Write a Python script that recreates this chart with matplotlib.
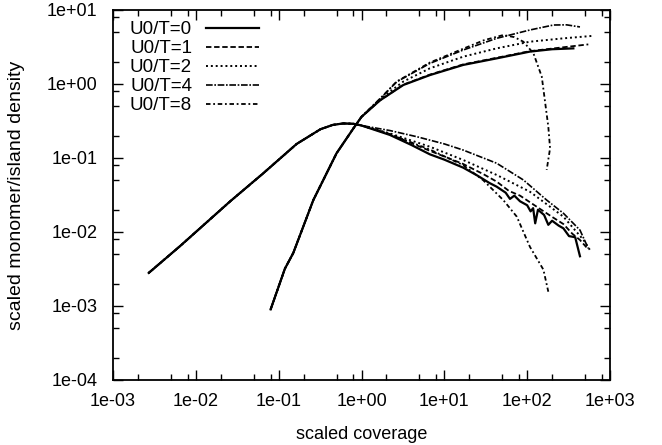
import matplotlib
matplotlib.use("Agg")
import matplotlib.pyplot as plt
from matplotlib.ticker import LogLocator, FuncFormatter, NullFormatter

plt.rcParams['font.family'] = ['Liberation Sans', 'DejaVu Sans']

labels = ["U0/T=0", "U0/T=1", "U0/T=2", "U0/T=4", "U0/T=8"]

# monomer density: common rise, then one tail per U0/T
mono_x_common = [0.0027, 0.0065, 0.026, 0.065, 0.165, 0.32, 0.45, 0.60, 0.80, 1.0]
mono_y_common = [0.0028, 0.0065, 0.026, 0.062, 0.155, 0.245, 0.28, 0.293, 0.29, 0.275]

mono_x_0 = [1.0, 2.2, 4.0, 6.7, 10, 16.9, 25, 35, 42.8, 55, 62, 70, 82, 100, 110, 118, 125, 135,
            160, 180, 200, 240, 274, 320, 380, 434]
mono_y_0 = [0.272, 0.205, 0.15, 0.112, 0.095, 0.074, 0.058, 0.046, 0.041, 0.034, 0.028, 0.031, 0.026,
            0.023, 0.019, 0.021, 0.0131, 0.020, 0.017, 0.0125, 0.0142, 0.0122, 0.0112, 0.0088, 0.0085, 0.0047]
mono_x_1 = [1.0, 2.2, 6.7, 16.9, 30, 42.8, 60, 82, 130, 200, 274, 350, 434, 520]
mono_y_1 = [0.272, 0.21, 0.125, 0.083, 0.06, 0.048, 0.036, 0.031, 0.022, 0.016, 0.0128, 0.0095, 0.0078, 0.0062]
mono_x_2 = [1.0, 2.2, 6.7, 16.9, 42.8, 108, 274, 479, 573]
mono_y_2 = [0.274, 0.215, 0.142, 0.094, 0.059, 0.035, 0.0161, 0.0078, 0.0057]
mono_x_4 = [1.0, 2.2, 4.65, 10, 16.9, 42.8, 90, 172, 274, 434, 547]
mono_y_4 = [0.279, 0.235, 0.194, 0.155, 0.128, 0.085, 0.0505, 0.027, 0.0179, 0.0106, 0.006]
mono_x_8 = [1.0, 2.2, 6.7, 16.9, 29.5, 51.5, 75, 108, 157, 180]
mono_y_8 = [0.276, 0.21, 0.13, 0.08, 0.05, 0.027, 0.0161, 0.0063, 0.0031, 0.00156]

# island density: common rise, then one tail per U0/T
isl_x_common = [0.08, 0.119, 0.15, 0.262, 0.5, 0.8, 1.0]
isl_y_common = [0.0009, 0.0032, 0.0052, 0.027, 0.116, 0.252, 0.36]

isl_x_0 = [1.0, 1.67, 3.2, 6.7, 16.9, 42.8, 108, 200, 361]
isl_y_0 = [0.36, 0.6, 0.97, 1.32, 1.81, 2.22, 2.74, 2.95, 3.03]
isl_x_1 = [1.0, 1.67, 3.2, 6.7, 16.9, 42.8, 108, 250, 547]
isl_y_1 = [0.36, 0.6, 0.98, 1.34, 1.84, 2.26, 2.78, 3.1, 3.43]
isl_x_2 = [1.0, 1.67, 3.2, 6.7, 16.9, 42.8, 108, 274, 601]
isl_y_2 = [0.36, 0.62, 1.08, 1.63, 2.34, 3.03, 3.73, 4.14, 4.46]
isl_x_4 = [1.0, 1.67, 2.66, 6.7, 16.9, 42.8, 108, 208, 300, 434]
isl_y_4 = [0.36, 0.63, 1.07, 1.9, 2.88, 4.14, 5.37, 6.27, 6.3, 5.9]
isl_x_8 = [1.0, 1.67, 2.66, 6.7, 16.9, 30, 51.5, 70, 90, 119, 150, 180, 189, 172]
isl_y_8 = [0.36, 0.63, 1.08, 1.95, 3.0, 3.9, 4.59, 4.3, 3.73, 2.6, 1.26, 0.265, 0.135, 0.069]

mono_tails = [(mono_x_0, mono_y_0), (mono_x_1, mono_y_1), (mono_x_2, mono_y_2),
              (mono_x_4, mono_y_4), (mono_x_8, mono_y_8)]
isl_tails = [(isl_x_0, isl_y_0), (isl_x_1, isl_y_1), (isl_x_2, isl_y_2),
             (isl_x_4, isl_y_4), (isl_x_8, isl_y_8)]

styles = [dict(ls='-', lw=1.6),
          dict(ls=(0, (3, 1.5)), lw=1.3),
          dict(ls=(0, (1, 1.5)), lw=1.4),
          dict(ls=(0, (4, 1, 1, 1)), lw=1.2),
          dict(ls=(0, (2.5, 1.5, 1, 1.5)), lw=1.3)]

fig = plt.figure(figsize=(6.62, 4.45), dpi=100)
ax = fig.add_axes([113 / 662, 1 - 380 / 445, 497 / 662, 370 / 445])

for lab, st, (mx, my), (ix, iy) in zip(labels, styles, mono_tails, isl_tails):
    ax.plot(mono_x_common + mx[1:], mono_y_common + my[1:], color='black', label=lab, **st)
    ax.plot(isl_x_common + ix[1:], isl_y_common + iy[1:], color='black', **st)

ax.set_xscale('log')
ax.set_yscale('log')
ax.set_xlim(1e-3, 1e3)
ax.set_ylim(1e-4, 1e1)

fmt = FuncFormatter(lambda v, _: f"{v:.0e}")
for a in (ax.xaxis, ax.yaxis):
    a.set_major_locator(LogLocator(base=10, numticks=20))
    a.set_minor_locator(LogLocator(base=10, subs=(2, 5, 8), numticks=20))
    a.set_major_formatter(fmt)
    a.set_minor_formatter(NullFormatter())

ax.tick_params(which='both', direction='in', top=True, right=True, labelsize=13, width=1)
ax.tick_params(which='major', length=7)
ax.tick_params(which='minor', length=4)
ax.tick_params(axis='x', which='major', pad=9)
ax.tick_params(axis='y', which='major', pad=11)
for s in ax.spines.values():
    s.set_linewidth(1.3)

ax.set_xlabel("scaled coverage", fontsize=13, labelpad=12)
ax.set_ylabel("scaled monomer/island density", fontsize=14, labelpad=16)

ax.legend(loc='upper left', bbox_to_anchor=(0.034, 0.97), frameon=False, markerfirst=False,
          fontsize=13.5, handlelength=2.8, handletextpad=0.75, labelspacing=0.1,
          borderaxespad=0, borderpad=0)

fig.savefig("out.png", dpi=100)
